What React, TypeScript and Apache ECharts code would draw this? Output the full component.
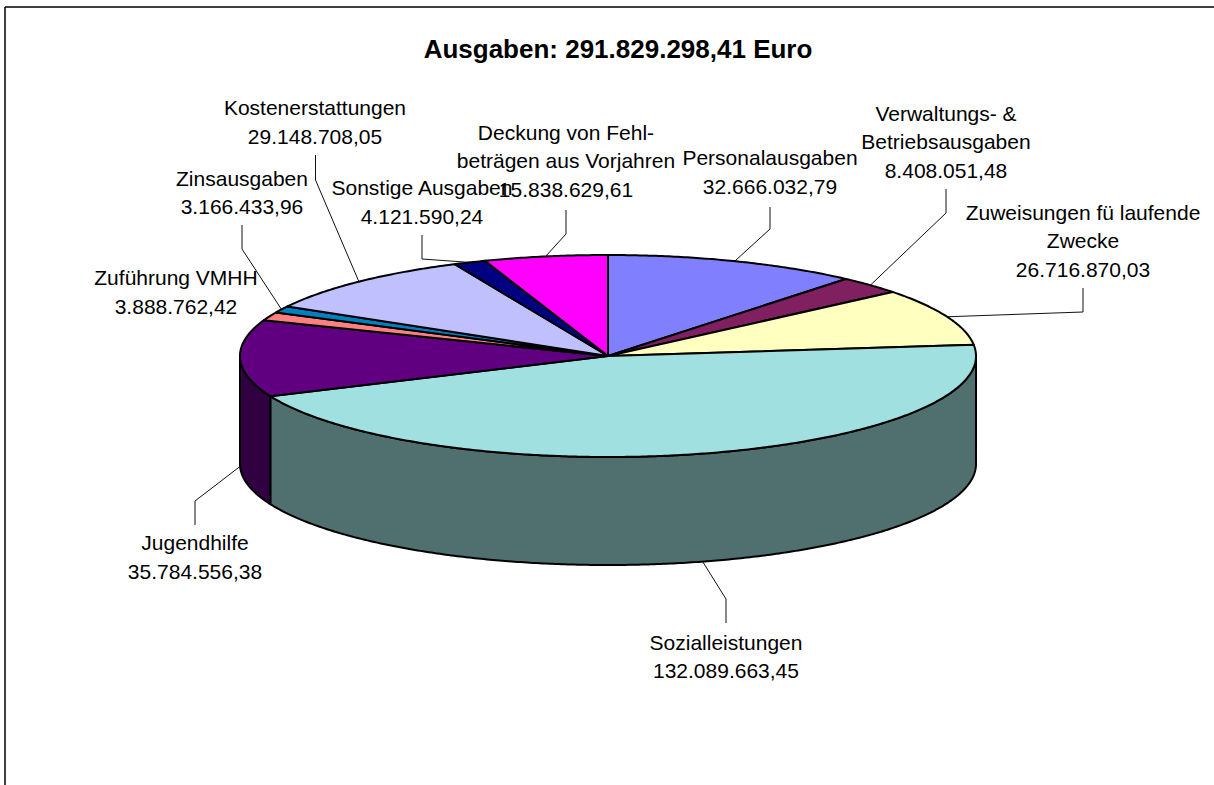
import React, { useEffect, useRef } from "react";
import * as echarts from "echarts";

const titleText = "Ausgaben: 291.829.298,41 Euro";
const categories = [
  "Personalausgaben",
  "Verwaltungs- &\nBetriebsausgaben",
  "Zuweisungen fü laufende\nZwecke",
  "Sozialleistungen",
  "Jugendhilfe",
  "Zuführung VMHH",
  "Zinsausgaben",
  "Kostenerstattungen",
  "Sonstige Ausgaben",
  "Deckung von Fehl-\nbeträgen aus Vorjahren",
];
const amounts = [
  32666032.79, 8408051.48, 26716870.03, 132089663.45, 35784556.38,
  3888762.42, 3166433.96, 29148708.05, 4121590.24, 15838629.61,
];
const topColors = ["#8080FF", "#802060", "#FFFFC0", "#A0E0E0", "#600080", "#FF8080", "#0080C0", "#C0C0FF", "#000080", "#FF00FF"];
const sideColors = ["#404080", "#401030", "#808060", "#507070", "#300040", "#804040", "#004060", "#606080", "#000040", "#800080"];

// Drawing layout (not data): label block centre [x, first-line y] and leader elbow/end
const labelAt: number[][] = [
  [770, 157.5], [946, 113], [1083, 212], [726, 642], [195, 542.5],
  [176, 277.5], [242, 178], [315, 107.5], [422, 187.5], [566, 132],
];
const leaderAt: (number[][] | null)[] = [
  [[770, 229], [770, 207]],
  [[946, 213], [946, 189]],
  [[1083, 312], [1083, 288]],
  [[726, 599], [726, 623]],
  [[195, 501], [195, 525]],
  null,
  [[242, 249], [242, 225]],
  [[315.5, 180], [315.5, 155]],
  [[422, 259], [422, 235]],
  [[566, 234], [566, 210]],
];

const CX = 608, CY = 356, RX = 368, RY = 101, DEPTH = 108;
const LINE_H = 28.5;
const FONT = "Liberation Sans, Arial, sans-serif";

const total = amounts.reduce((a, b) => a + b, 0);
const startOf = (i: number) => amounts.slice(0, i).reduce((a, b) => a + b, 0);
const toDeg = (v: number) => (v / total) * 360;
const rim = (deg: number, dy = 0) => {
  const t = (deg * Math.PI) / 180;
  return [CX + RX * Math.sin(t), CY - RY * Math.cos(t) + dy];
};
const arcPts = (a: number, b: number, dy = 0) => {
  const n = Math.max(2, Math.ceil(Math.abs(b - a) * 2));
  const pts: number[][] = [];
  for (let k = 0; k <= n; k++) pts.push(rim(a + ((b - a) * k) / n, dy));
  return pts;
};
const formatDe = (v: number) => {
  const [i, d] = v.toFixed(2).split(".");
  return i.replace(/\B(?=(\d{3})+$)/g, ".") + "," + d;
};
const lineStyle = { stroke: "#000", lineWidth: 2, lineJoin: "round" as const };

const customSeries = (z: number, renderItem: any) => ({
  type: "custom",
  coordinateSystem: "none",
  silent: true,
  z,
  data: amounts.map((v) => [v]),
  renderItem,
});

export default function App() {
  const ref = useRef<HTMLDivElement>(null);
  useEffect(() => {
    const chart = echarts.init(ref.current!, undefined, { renderer: "svg" });
    chart.setOption({
      animation: false,
      backgroundColor: "#fff",
      title: {
        text: titleText,
        left: 613,
        top: 31,
        textAlign: "center",
        textStyle: { fontFamily: FONT, fontWeight: "bold", fontSize: 26, color: "#000" },
      },
      graphic: [
        { type: "line", silent: true, shape: { x1: 5, y1: 7, x2: 5, y2: 785 }, style: { stroke: "#000", lineWidth: 1.5 } },
        { type: "line", silent: true, shape: { x1: 5, y1: 7, x2: 1214, y2: 7 }, style: { stroke: "#000", lineWidth: 1.5 } },
      ],
      series: [
        // leader lines, anchored on the slice's mid angle
        customSeries(1, (p: any) => {
          const i = p.dataIndex;
          const path = leaderAt[i];
          if (!path) return { type: "group", children: [] };
          const mid = toDeg(startOf(i) + amounts[i] / 2);
          const front = mid > 90 && mid < 270;
          return {
            type: "polyline",
            shape: { points: [rim(mid, front ? DEPTH : 0), ...path] },
            style: { stroke: "#111", lineWidth: 1, fill: "none" },
          };
        }),
        // side walls
        customSeries(2, (p: any) => {
          const i = p.dataIndex;
          const a = Math.max(toDeg(startOf(i)), 90);
          const b = Math.min(toDeg(startOf(i) + amounts[i]), 270);
          if (b <= a) return { type: "group", children: [] };
          return {
            type: "polygon",
            shape: { points: [...arcPts(a, b), ...arcPts(b, a, DEPTH)] },
            style: { ...lineStyle, fill: sideColors[i] },
          };
        }),
        // top faces
        customSeries(3, (p: any) => {
          const i = p.dataIndex;
          const a = toDeg(startOf(i));
          const b = toDeg(startOf(i) + amounts[i]);
          return {
            type: "polygon",
            shape: { points: [[CX, CY], ...arcPts(a, b)] },
            style: { ...lineStyle, fill: topColors[i] },
          };
        }),
        // labels
        customSeries(4, (p: any) => {
          const i = p.dataIndex;
          const text = categories[i] + "\n" + formatDe(amounts[i]);
          const lines = text.split("\n").length;
          return {
            type: "text",
            style: {
              text,
              x: labelAt[i][0],
              y: labelAt[i][1] + ((lines - 1) * LINE_H) / 2,
              align: "center",
              verticalAlign: "middle",
              fontFamily: FONT,
              fontSize: 21,
              lineHeight: LINE_H,
              fill: "#000",
            },
          };
        }),
      ],
    });
    return () => chart.dispose();
  }, []);
  return (
    <div
      ref={ref}
      style={{ position: "fixed", left: 0, top: 0, width: 1214, height: 785 }}
    />
  );
}
